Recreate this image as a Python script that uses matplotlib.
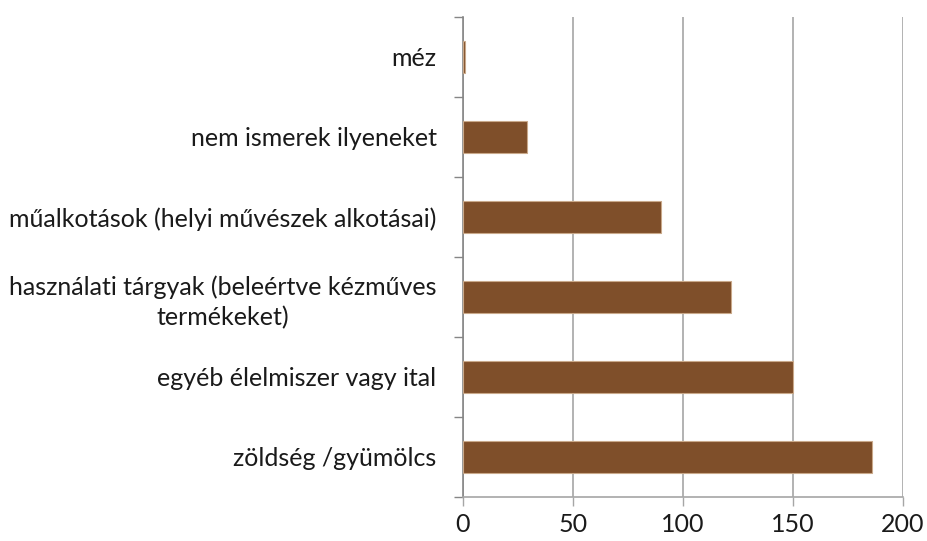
import matplotlib
matplotlib.use("Agg")
import matplotlib.pyplot as plt

# categories listed bottom to top
categories = [
    "zöldség /gyümölcs",
    "egyéb élelmiszer vagy ital",
    "használati tárgyak (beleértve kézműves\ntermékeket)",
    "műalkotások (helyi művészek alkotásai)",
    "nem ismerek ilyeneket",
    "méz",
]
values = [186, 150, 122, 90, 29, 1]
x_ticks = [0, 50, 100, 150, 200]

plt.rcParams['font.family'] = ['Lato', 'DejaVu Sans']

fig = plt.figure(figsize=(9.27, 5.41), dpi=100)
ax = fig.add_axes([463 / 927, 1 - 497 / 541, 440 / 927, 480 / 541])

pos = list(range(len(categories)))
ax.barh(pos, values, height=0.39, color="#7F4F2A", edgecolor="#C9A98A",
        linewidth=0.8, zorder=3)

ax.set_xlim(0, 200)
ax.set_ylim(-0.5, len(categories) - 0.5)
ax.set_xticks(x_ticks)
ax.set_xticklabels([str(t) for t in x_ticks], fontsize=18, color="#1a1a1a")
ax.grid(axis="x", color="#A6A6A6", linewidth=1.2, zorder=0)

# category labels sit between boundary ticks
ax.set_yticks(pos)
ax.set_yticklabels(categories, fontsize=18, color="#1a1a1a",
                   multialignment="center", linespacing=1.35)
ax.tick_params(axis="y", length=0, pad=19)
ax.set_yticks([p - 0.5 for p in pos] + [len(pos) - 0.5], minor=True)
ax.tick_params(axis="y", which="minor", length=6.5, color="#868686", width=1)
ax.tick_params(axis="x", length=6.5, color="#A6A6A6", width=1, pad=5)

for s in ("top", "right"):
    ax.spines[s].set_visible(False)
ax.spines["left"].set_color("#868686")
ax.spines["bottom"].set_color("#A6A6A6")
ax.spines["left"].set_linewidth(1.2)
ax.spines["bottom"].set_linewidth(1.2)

fig.savefig("out.png", dpi=100)
